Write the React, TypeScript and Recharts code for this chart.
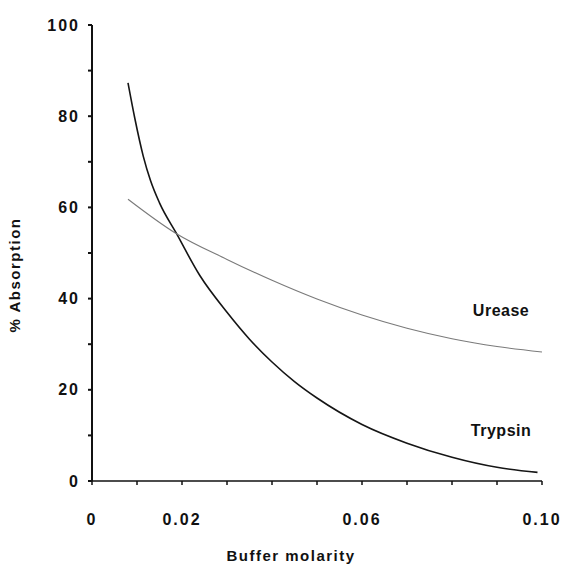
import { LineChart, Line, XAxis, YAxis, ReferenceDot, Label } from 'recharts'

// points (buffer molarity, % absorption)
const trypsinMolarity = [0.008, 0.0095, 0.0114, 0.013, 0.015, 0.0187, 0.024, 0.03, 0.035, 0.04, 0.045, 0.05, 0.06, 0.07, 0.08, 0.09, 0.099]
const trypsinAbsorption = [87.3, 79.6, 71.2, 65.9, 61.0, 54.4, 45.0, 37.0, 31.1, 26.1, 21.8, 18.2, 12.4, 8.3, 5.2, 3.0, 1.9]

const ureaseMolarity = [0.008, 0.0185, 0.03, 0.04, 0.05, 0.06, 0.07, 0.08, 0.09, 0.1]
const ureaseAbsorption = [61.8, 54.4, 48.6, 44.0, 39.9, 36.4, 33.5, 31.2, 29.5, 28.3]

const xTicks = [0, 0.01, 0.02, 0.03, 0.04, 0.05, 0.06, 0.07, 0.08, 0.09, 0.1]
const xLabels = ['0', '', '0.02', '', '', '', '0.06', '', '', '', '0.10']
const yTicks = [0, 10, 20, 30, 40, 50, 60, 70, 80, 90, 100]
const yLabels = ['0', '', '20', '', '40', '', '60', '', '80', '', '100']

const trypsinData = trypsinMolarity.map((m, i) => ({ m, v: trypsinAbsorption[i] }))
const ureaseData = ureaseMolarity.map((m, i) => ({ m, v: ureaseAbsorption[i] }))

const font = 'Liberation Sans, Arial, sans-serif'
const tickStyle = { fontFamily: font, fontSize: 16, fontWeight: 'bold', fill: '#111', letterSpacing: 2 }
const titleStyle = { fontFamily: font, fontSize: 15, fontWeight: 'bold', fill: '#111', letterSpacing: 1.5 }

export default function App() {
  return (
    <div style={{ position: 'absolute', left: 0, top: 0, background: '#fff' }}>
      <LineChart width={571} height={566} margin={{ top: 25, right: 29, bottom: 5, left: 32 }}>
        <XAxis
          dataKey="m"
          type="number"
          domain={[0, 0.1]}
          ticks={xTicks}
          tickFormatter={(v: number) => xLabels[Math.round(v * 100)]}
          interval={0}
          height={80}
          tickSize={4}
          tickMargin={29}
          stroke="#111"
          strokeWidth={1.5}
          tick={tickStyle}
          allowDuplicatedCategory={false}
        >
          <Label
            content={() => (
              <text x={291} y={561} textAnchor="middle" style={titleStyle}>
                Buffer molarity
              </text>
            )}
          />
        </XAxis>
        <YAxis
          type="number"
          domain={[0, 100]}
          ticks={yTicks}
          tickFormatter={(v: number) => yLabels[Math.round(v / 10)]}
          interval={0}
          width={60}
          tickSize={4}
          tickMargin={8}
          stroke="#111"
          strokeWidth={2}
          tick={tickStyle}
        >
          <Label
            content={() => (
              <text x={20} y={275} transform="rotate(-90 20 275)" textAnchor="middle" style={titleStyle}>
                % Absorption
              </text>
            )}
          />
        </YAxis>
        <Line
          data={trypsinData}
          dataKey="v"
          type="monotone"
          stroke="#151515"
          strokeWidth={1.6}
          dot={false}
          isAnimationActive={false}
        />
        <Line
          data={ureaseData}
          dataKey="v"
          type="monotone"
          stroke="#7a7a7a"
          strokeWidth={1.1}
          dot={false}
          isAnimationActive={false}
        />
        <ReferenceDot x={0.0909} y={37.5} r={0} fill="none" stroke="none">
          <Label value="Urease" position="center" style={{ ...titleStyle, fontSize: 16, letterSpacing: 0.5 }} />
        </ReferenceDot>
        <ReferenceDot x={0.0909} y={11.2} r={0} fill="none" stroke="none">
          <Label value="Trypsin" position="center" style={{ ...titleStyle, fontSize: 16, letterSpacing: 0.5 }} />
        </ReferenceDot>
      </LineChart>
    </div>
  )
}
